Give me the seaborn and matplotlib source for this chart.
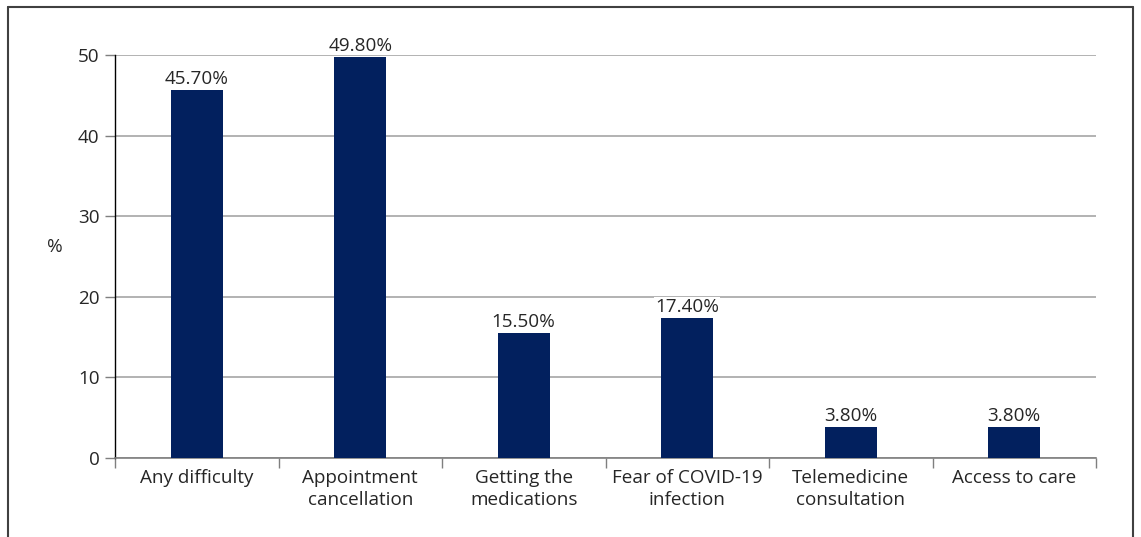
import matplotlib
matplotlib.use("Agg")
import matplotlib.pyplot as plt
import seaborn as sns
import pandas as pd
import numpy as np
from matplotlib.lines import Line2D

categories = ["Any difficulty", "Appointment\ncancellation", "Getting the\nmedications",
              "Fear of COVID-19\ninfection", "Telemedicine\nconsultation", "Access to care"]
values = [45.7, 49.8, 15.5, 17.4, 3.8, 3.8]
labels = ["45.70%", "49.80%", "15.50%", "17.40%", "3.80%", "3.80%"]
yticks = [0, 10, 20, 30, 40, 50]

sns.set_style("white")
plt.rcParams['font.family'] = ['Open Sans', 'DejaVu Sans']

FS = 13.6

fig = plt.figure(figsize=(11.41, 5.37), dpi=100)
ax = fig.add_axes([115/1141, 1-458/537, (1096-115)/1141, (458-55)/537])

df = pd.DataFrame({"cat": categories, "val": values})
sns.barplot(data=df, x="cat", y="val", color="#02205E", width=0.32, saturation=1,
            linewidth=0, ax=ax, zorder=3)

ax.set_xlim(-0.5, 5.5)
ax.set_ylim(0, 50)
ax.set_yticks(yticks)
ax.yaxis.grid(True, color="#A6A6A6", linewidth=1.2, zorder=0)
ax.set_axisbelow(True)

for sp in ["top", "right"]:
    ax.spines[sp].set_visible(False)
ax.spines["left"].set_color("#000000")
ax.spines["left"].set_linewidth(1.0)
ax.spines["bottom"].set_color("#7F7F7F")
ax.spines["bottom"].set_linewidth(1.2)

ax.tick_params(axis="y", length=7, width=1, color="#7F7F7F", labelsize=FS, pad=4, left=True)
ax.set_xticks(range(len(categories)))
ax.set_xticklabels(categories, fontsize=FS, linespacing=1.25)
ax.tick_params(axis="x", length=0, pad=8)
ax.set_xticks(np.arange(-0.5, len(categories), 1.0), minor=True)
ax.tick_params(axis="x", which="minor", length=7, width=1, color="#7F7F7F", bottom=True)
ax.set_xlabel("")
ax.set_ylabel("%", rotation=0, fontsize=FS, labelpad=0)
ax.yaxis.set_label_coords(-60/981, 0.5)

for i, (v, t) in enumerate(zip(values, labels)):
    ax.annotate(t, (i, v), xytext=(0, 1.5), textcoords="offset points", ha="center", va="bottom",
                fontsize=FS, zorder=5,
                bbox=dict(boxstyle="square,pad=0.05", facecolor="white", edgecolor="none"))

# outer frame (left, top, right)
fx0, fx1, fy1 = 7.5/1141, 1133/1141, 1-6.5/537
frame_kw = dict(color="#404040", linewidth=1.5, transform=fig.transFigure)
fig.add_artist(Line2D([fx0, fx0], [0, fy1], **frame_kw))
fig.add_artist(Line2D([fx0, fx1], [fy1, fy1], **frame_kw))
fig.add_artist(Line2D([fx1, fx1], [0, fy1], **frame_kw))

fig.savefig("out.png", dpi=100)
